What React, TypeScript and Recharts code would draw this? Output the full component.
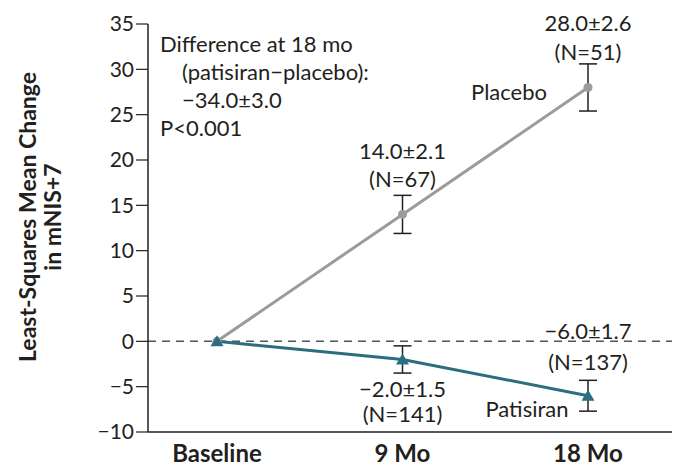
import React from 'react';
import { LineChart, Line, XAxis, YAxis, ReferenceLine, ErrorBar, LabelList, Label } from 'recharts';

// visits and least-squares mean change in mNIS+7
const visits = ['Baseline', '9 Mo', '18  Mo'];
const placeboMean = [0, 14.0, 28.0];
const placeboSe = [null, 2.1, 2.6];
const patisiranMean = [0, -2.0, -6.0];
const patisiranSe = [null, 1.5, 1.7];

const placeboValueLabels = ['', '14.0±2.1', '28.0±2.6'];
const placeboCountLabels = ['', '(N=67)', '(N=51)'];
const patisiranValueLabels = ['', '−2.0±1.5', '−6.0±1.7'];
const patisiranCountLabels = ['', '(N=141)', '(N=137)'];

const yTicks = [-10, -5, 0, 5, 10, 15, 20, 25, 30, 35];
const noteLines = ['Difference at 18 mo', '(patisiran−placebo):', '−34.0±3.0', 'P<0.001'];

const data = visits.map((visit, i) => ({
  visit,
  placebo: placeboMean[i],
  placeboSe: placeboSe[i],
  patisiran: patisiranMean[i],
  patisiranSe: patisiranSe[i],
}));

const FONT = 'Lato, "DejaVu Sans", sans-serif';
const GRAY = '#9b9b9b';
const TEAL = '#2b6e7f';
const INK = '#231f20';
const TXT = 22;

// label offsets per point index: [value label dy, N label dy]
const placeboOffsets: Record<number, [number, number]> = { 1: [-64, -36], 2: [-65, -36] };
const patisiranOffsets: Record<number, [number, number]> = { 1: [29, 54], 2: [-65, -34] };

const minus = (v: number) => String(v).replace('-', '−');

const makeLabels = (
  values: string[],
  counts: string[],
  offsets: Record<number, [number, number]>,
  name: string,
  nameDx: number,
  nameDy: number
) => (props: any) => {
  const { x, y, index } = props;
  const off = offsets[index];
  if (!off) return null;
  return (
    <g>
      <text x={x} y={y + off[0]} textAnchor="middle" dominantBaseline="central" fontSize={TXT} fill={INK} fontFamily={FONT}>
        {values[index]}
      </text>
      <text x={x} y={y + off[1]} textAnchor="middle" dominantBaseline="central" fontSize={TXT} fill={INK} fontFamily={FONT}>
        {counts[index]}
      </text>
      {index === values.length - 1 && (
        <text x={x + nameDx} y={y + nameDy} textAnchor="middle" dominantBaseline="central" fontSize={TXT} fill={INK} fontFamily={FONT}>
          {name}
        </text>
      )}
    </g>
  );
};

const Triangle = (props: any) => {
  const { cx, cy } = props;
  if (cx == null || cy == null) return null;
  return <polygon points={`${cx},${cy - 6} ${cx - 6.5},${cy + 5} ${cx + 6.5},${cy + 5}`} fill={TEAL} />;
};

const YLabel = () => {
  const cx = 36;
  const cy = 217;
  return (
    <text transform={`rotate(-90 ${cx} ${cy})`} x={cx} y={cy} textAnchor="middle" fontSize={23} fontWeight={700} fill={INK} fontFamily={FONT}>
      <tspan x={cx} dy={0}>Least-Squares Mean Change</tspan>
      <tspan x={cx} dy={25}>in mNIS+7</tspan>
    </text>
  );
};

export default function App() {
  return (
    <div style={{ position: 'absolute', left: 0, top: 0, width: 673, height: 467, background: '#fff', fontFamily: FONT }}>
      <LineChart width={673} height={467} data={data} margin={{ top: 24, right: 1, bottom: 0, left: 0 }}>
        <XAxis
          dataKey="visit"
          padding={{ left: 69, right: 84 }}
          height={35}
          tickLine={false}
          axisLine={{ stroke: INK, strokeWidth: 1.5 }}
          tick={{ fontSize: 24, fontWeight: 700, fill: INK, fontFamily: FONT }}
          tickMargin={7}
          interval={0}
        />
        <YAxis
          width={148}
          domain={[-10, 35]}
          ticks={yTicks}
          tickFormatter={minus}
          tickSize={12}
          tickLine={{ stroke: INK, strokeWidth: 1.2 }}
          axisLine={{ stroke: INK, strokeWidth: 1.5 }}
          tick={{ fontSize: 21, fill: INK, fontFamily: FONT }}
          tickMargin={2}
          interval={0}
        >
          <Label content={<YLabel />} />
        </YAxis>
        <ReferenceLine y={0} stroke="#555" strokeDasharray="8 6" strokeWidth={1.5} />
        <Line
          dataKey="placebo"
          stroke={GRAY}
          strokeWidth={3}
          dot={{ r: 4.5, fill: GRAY, stroke: GRAY, strokeWidth: 0 }}
          isAnimationActive={false}
        >
          <ErrorBar dataKey="placeboSe" width={9} stroke={INK} strokeWidth={1.5} direction="y" />
          <LabelList dataKey="placebo" content={makeLabels(placeboValueLabels, placeboCountLabels, placeboOffsets, 'Placebo', -79, 4)} />
        </Line>
        <Line
          dataKey="patisiran"
          stroke={TEAL}
          strokeWidth={3}
          dot={<Triangle />}
          isAnimationActive={false}
        >
          <ErrorBar dataKey="patisiranSe" width={9} stroke={INK} strokeWidth={1.5} direction="y" />
          <LabelList dataKey="patisiran" content={makeLabels(patisiranValueLabels, patisiranCountLabels, patisiranOffsets, 'Patisiran', -61, 13)} />
        </Line>
      </LineChart>
      {noteLines.map((line, i) => (
        <div
          key={line}
          style={{
            position: 'absolute',
            left: i === 1 || i === 2 ? 182 : 160,
            top: 30 + i * 28,
            lineHeight: '28px',
            fontSize: TXT,
            color: INK,
            whiteSpace: 'nowrap',
          }}
        >
          {line}
        </div>
      ))}
    </div>
  );
}
